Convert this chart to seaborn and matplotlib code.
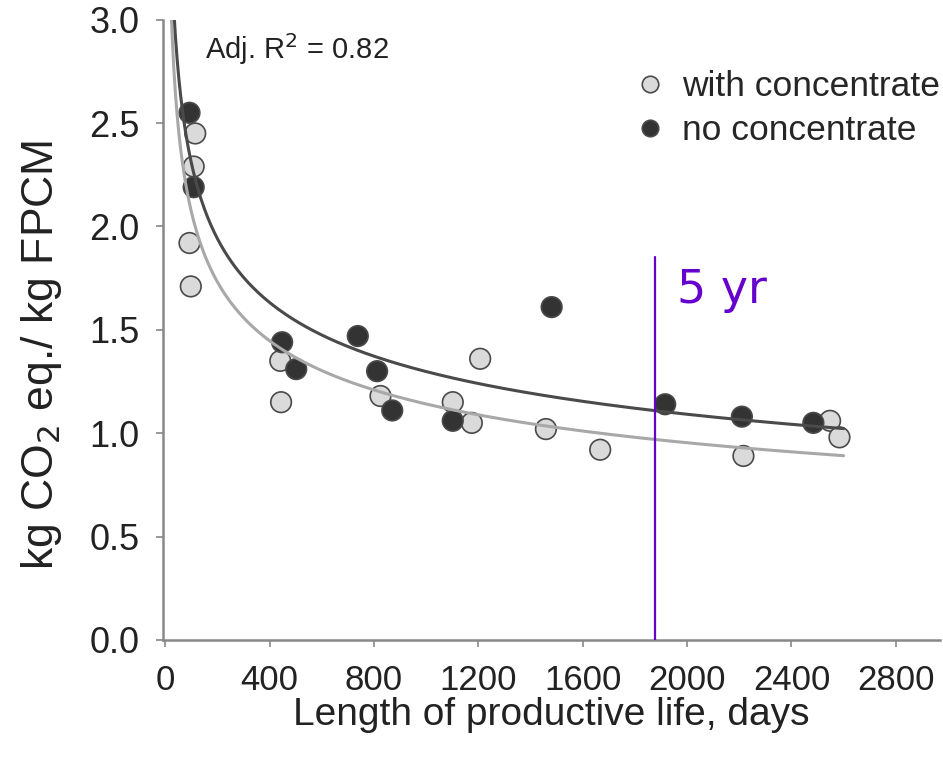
import numpy as np
import pandas as pd
import seaborn as sns
import matplotlib.pyplot as plt

# values (days, kg CO2 eq./kg FPCM)
with_days = [115, 109, 93, 98, 441, 444, 825, 1102, 1175, 1207, 1459, 1667, 2216, 2548, 2584]
with_co2 = [2.45, 2.29, 1.92, 1.71, 1.35, 1.15, 1.18, 1.15, 1.05, 1.36, 1.02, 0.92, 0.89, 1.06, 0.98]
no_days = [93, 109, 448, 502, 738, 812, 870, 1102, 1481, 1916, 2210, 2484]
no_co2 = [2.55, 2.19, 1.44, 1.31, 1.47, 1.30, 1.11, 1.06, 1.61, 1.14, 1.08, 1.05]
groups = ['with concentrate', 'no concentrate']

# fitted power curves y = a * days^b, as drawn in the reference
fit_a = {'with concentrate': 6.83, 'no concentrate': 7.3}
fit_b = {'with concentrate': -0.259, 'no concentrate': -0.25}
fit_start, fit_end = 20, 2600
five_years = 1877   # position of the "5 yr" marker line

sns.set_theme(style='ticks')
plt.rcParams['font.family'] = ['Liberation Sans', 'DejaVu Sans']

df = pd.concat([
    pd.DataFrame({'days': with_days, 'co2': with_co2, 'group': groups[0]}),
    pd.DataFrame({'days': no_days, 'co2': no_co2, 'group': groups[1]}),
], ignore_index=True)

palette = {groups[0]: '#dadada', groups[1]: '#333333'}
line_colors = {groups[0]: '#a8a8a8', groups[1]: '#4a4a4a'}

fig = plt.figure(figsize=(9.43, 7.6), dpi=100)
ax = fig.add_axes([0.173, 0.158, 0.824, 0.816])

sns.scatterplot(data=df, x='days', y='co2', hue='group', palette=palette,
                s=220, edgecolor='#4a4a4a', linewidth=1.2, ax=ax, zorder=2)

for g in groups:
    xs = np.linspace(fit_start, fit_end, 400)
    fit = pd.DataFrame({'days': xs, 'co2': fit_a[g] * xs ** fit_b[g]})
    sns.lineplot(data=fit, x='days', y='co2', color=line_colors[g], lw=2.2,
                 ax=ax, legend=False, zorder=3)

ax.plot([five_years, five_years], [0, 1.85], color='#6600cc', lw=1.6, zorder=4)
ax.text(1960, 1.63, '5 yr', color='#6600cc', fontsize=33, family='DejaVu Sans',
        va='baseline', ha='left')

ax.text(0.054, 0.953, 'Adj. R$^2$ = 0.82', transform=ax.transAxes, fontsize=21,
        va='center', ha='left', color='#222222')

ax.set_xlim(-8, 2970)
ax.set_ylim(0, 3.0)
ax.set_xticks(np.arange(0, 2801, 400))
ax.set_yticks(np.arange(0, 3.01, 0.5))
ax.yaxis.set_major_formatter(plt.FormatStrFormatter('%.1f'))
ax.set_xlabel('Length of productive life, days', fontsize=28, labelpad=0, color='#222222')
ax.set_ylabel('kg CO$_2$ eq./ kg FPCM', fontsize=32, color='#222222')
ax.yaxis.set_label_coords(-0.128, 0.46)
ax.tick_params(axis='both', length=5, width=1.2, color='#888888', labelcolor='#222222')
ax.tick_params(axis='y', pad=12, labelsize=26)
ax.tick_params(axis='x', pad=12, labelsize=25)
for lbl in ax.get_xticklabels():
    lbl.set_family(['Liberation Sans Narrow', 'Liberation Sans'])
for side in ['top', 'right']:
    ax.spines[side].set_visible(False)
for side in ['left', 'bottom']:
    ax.spines[side].set_color('#888888')
    ax.spines[side].set_linewidth(1.8)

handles, labels = ax.get_legend_handles_labels()
ax.legend(handles[:2], labels[:2], loc='upper left', bbox_to_anchor=(0.606, 0.919),
          frameon=False, fontsize=25.5, handlelength=0.9, handletextpad=0.45,
          labelspacing=0.32, borderpad=0, borderaxespad=0, markerscale=0.8)

fig.savefig('out.png', dpi=100)
